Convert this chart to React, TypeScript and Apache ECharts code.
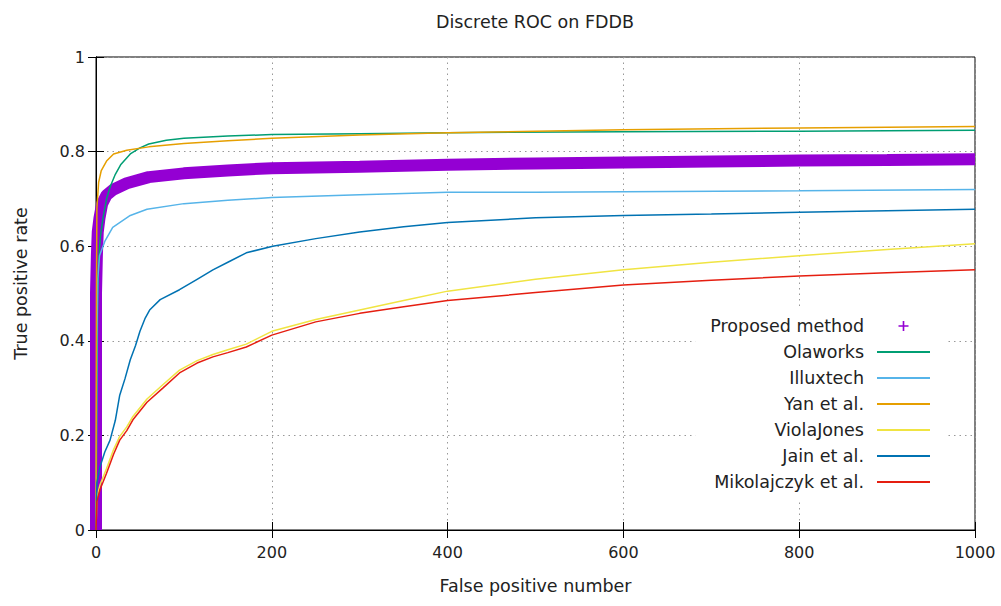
import React, { useEffect, useRef } from "react";
import * as echarts from "echarts";

const xTicks = { min: 0, max: 1000, interval: 200 };
const yTicks = { min: 0, max: 1, interval: 0.2 };

const seriesNames = [
  "Proposed method",
  "Olaworks",
  "Illuxtech",
  "Yan et al.",
  "ViolaJones",
  "Jain et al.",
  "Mikolajczyk et al.",
];

const proposed = [
  [0, 0], [0, 0.5], [1, 0.58], [2, 0.63], [4, 0.66], [7, 0.69], [12, 0.708], [20, 0.72],
  [35, 0.733], [60, 0.746], [100, 0.754], [150, 0.76], [200, 0.765], [300, 0.768],
  [400, 0.772], [500, 0.775], [600, 0.777], [700, 0.779], [800, 0.781], [900, 0.782], [1000, 0.784],
];
const olaworks = [
  [0, 0], [1, 0.3], [2, 0.5], [3, 0.57], [5, 0.62], [8, 0.66], [12, 0.7], [16, 0.725],
  [22, 0.752], [28, 0.772], [39, 0.795], [50, 0.808], [60, 0.816], [80, 0.824], [100, 0.828],
  [150, 0.833], [200, 0.836], [300, 0.838], [400, 0.84], [600, 0.842], [800, 0.843], [1000, 0.845],
];
const illuxtech = [
  [0, 0], [1, 0.4], [2, 0.53], [4, 0.58], [10, 0.61], [19, 0.64], [39, 0.665], [58, 0.678],
  [100, 0.69], [150, 0.697], [200, 0.703], [300, 0.709], [400, 0.714], [500, 0.714],
  [600, 0.715], [800, 0.717], [1000, 0.72],
];
const yan = [
  [0, 0], [0.5, 0.5], [1, 0.68], [3, 0.735], [6, 0.76], [12, 0.78], [20, 0.795], [35, 0.803],
  [60, 0.81], [100, 0.817], [150, 0.823], [200, 0.828], [300, 0.835], [400, 0.84],
  [500, 0.843], [600, 0.846], [800, 0.85], [1000, 0.853],
];
const violaJones = [
  [0, 0], [1, 0.07], [4.5, 0.095], [12, 0.13], [20, 0.17], [27, 0.198], [35, 0.218],
  [42, 0.24], [58, 0.277], [76, 0.307], [95, 0.338], [115, 0.358], [133, 0.371], [150, 0.381],
  [171, 0.393], [200, 0.42], [250, 0.445], [300, 0.465], [350, 0.485], [400, 0.505],
  [500, 0.53], [600, 0.55], [700, 0.566], [800, 0.58], [900, 0.593], [1000, 0.605],
];
const jain = [
  [0, 0], [1, 0.1], [4.5, 0.133], [10, 0.165], [16, 0.19], [22, 0.232], [27, 0.285],
  [33, 0.32], [39, 0.36], [45, 0.39], [50, 0.42], [56, 0.448], [61, 0.465], [73, 0.487],
  [95, 0.508], [115, 0.53], [133, 0.55], [150, 0.566], [171, 0.586], [201, 0.6], [250, 0.616],
  [300, 0.63], [350, 0.641], [400, 0.65], [500, 0.66], [600, 0.665], [700, 0.668],
  [800, 0.672], [900, 0.675], [1000, 0.678],
];
const mikolajczyk = [
  [0, 0], [1, 0.06], [4.5, 0.085], [12, 0.12], [20, 0.16], [27, 0.19], [35, 0.21],
  [42, 0.233], [58, 0.27], [76, 0.3], [95, 0.332], [115, 0.353], [133, 0.366], [150, 0.375],
  [171, 0.387], [200, 0.412], [250, 0.44], [300, 0.458], [350, 0.472], [400, 0.485],
  [500, 0.502], [600, 0.518], [700, 0.528], [800, 0.537], [900, 0.544], [1000, 0.55],
];

const seriesData = [proposed, olaworks, illuxtech, yan, violaJones, jain, mikolajczyk];
const colors = ["#9400d3", "#009e73", "#56b4e9", "#e69f00", "#f0e442", "#0072b2", "#e51e10"];

const FONT = "'DejaVu Sans', Tahoma, sans-serif";
const PLUS_ICON = "path://M4.6,0H6.4V4.6H11V6.4H6.4V11H4.6V6.4H0V4.6H4.6Z";
const LINE_ICON = "path://M0,0H53V1.8H0Z";

export default function App() {
  const ref = useRef<HTMLDivElement>(null);
  useEffect(() => {
    if (!ref.current) return;
    const chart = echarts.init(ref.current, null, { renderer: "svg" });
    const axisCommon = {
      type: "value" as const,
      axisLine: { show: true, lineStyle: { color: "#000", width: 1 } },
      axisTick: { show: true, inside: true, length: 8, lineStyle: { color: "#000" } },
    };
    chart.setOption({
      animation: false,
      backgroundColor: "#fff",
      title: {
        text: "Discrete ROC on FDDB",
        left: 431,
        top: 8,
        textStyle: { fontFamily: FONT, fontSize: 17.5, fontWeight: "normal", color: "#222" },
      },
      grid: { left: 96, right: 26, top: 57, bottom: 76, show: true, borderColor: "#000", borderWidth: 1, backgroundColor: "transparent" },
      legend: {
        orient: "vertical",
        align: "right",
        right: 56,
        top: 309,
        padding: [8, 15, 8, 15],
        backgroundColor: "#fff",
        itemWidth: 53,
        itemHeight: 10,
        itemGap: 8,
        symbolKeepAspect: true,
        textStyle: { fontFamily: FONT, fontSize: 17.5, color: "#222", padding: [0, 8, 0, 0] },
        data: seriesNames.map((n, i) => ({ name: n, icon: i === 0 ? PLUS_ICON : LINE_ICON })),
      },
      xAxis: [
        {
          ...axisCommon,
          ...xTicks,
          position: "bottom",
          name: "False positive number",
          nameLocation: "middle",
          nameGap: 47,
          nameTextStyle: { fontFamily: FONT, fontSize: 17.5, color: "#222" },
          axisLabel: { fontFamily: FONT, fontSize: 16, color: "#222", margin: 14, formatter: (v: number) => String(v) },
          splitLine: { show: true, lineStyle: { color: "#999", type: [1.5, 4], width: 1 } },
        },
        {
          ...axisCommon,
          ...xTicks,
          position: "top",
          axisLabel: { show: false },
          splitLine: { show: false },
        },
      ],
      yAxis: [
        {
          ...axisCommon,
          ...yTicks,
          position: "left",
          name: "True positive rate",
          nameLocation: "middle",
          nameGap: 66,
          nameTextStyle: { fontFamily: FONT, fontSize: 17.5, color: "#222", padding: [0, 0, 0, 20] },
          axisLabel: { fontFamily: FONT, fontSize: 16, color: "#222", margin: 11 },
          splitLine: { show: true, lineStyle: { color: "#999", type: [1.5, 4], width: 1 } },
        },
        {
          ...axisCommon,
          ...yTicks,
          position: "right",
          axisLabel: { show: false },
          splitLine: { show: false },
        },
      ],
      series: seriesNames.map((n, i) => ({
        name: n,
        type: "line",
        data: seriesData[i],
        symbol: "none",
        color: colors[i],
        lineStyle: { color: colors[i], width: i === 0 ? 12 : 1.5 },
        z: i === 0 ? 2 : 3,
        xAxisIndex: 0,
        yAxisIndex: 0,
      })),
    });
    return () => chart.dispose();
  }, []);
  return <div ref={ref} style={{ position: "fixed", left: 0, top: 0, width: 1001, height: 606 }} />;
}
